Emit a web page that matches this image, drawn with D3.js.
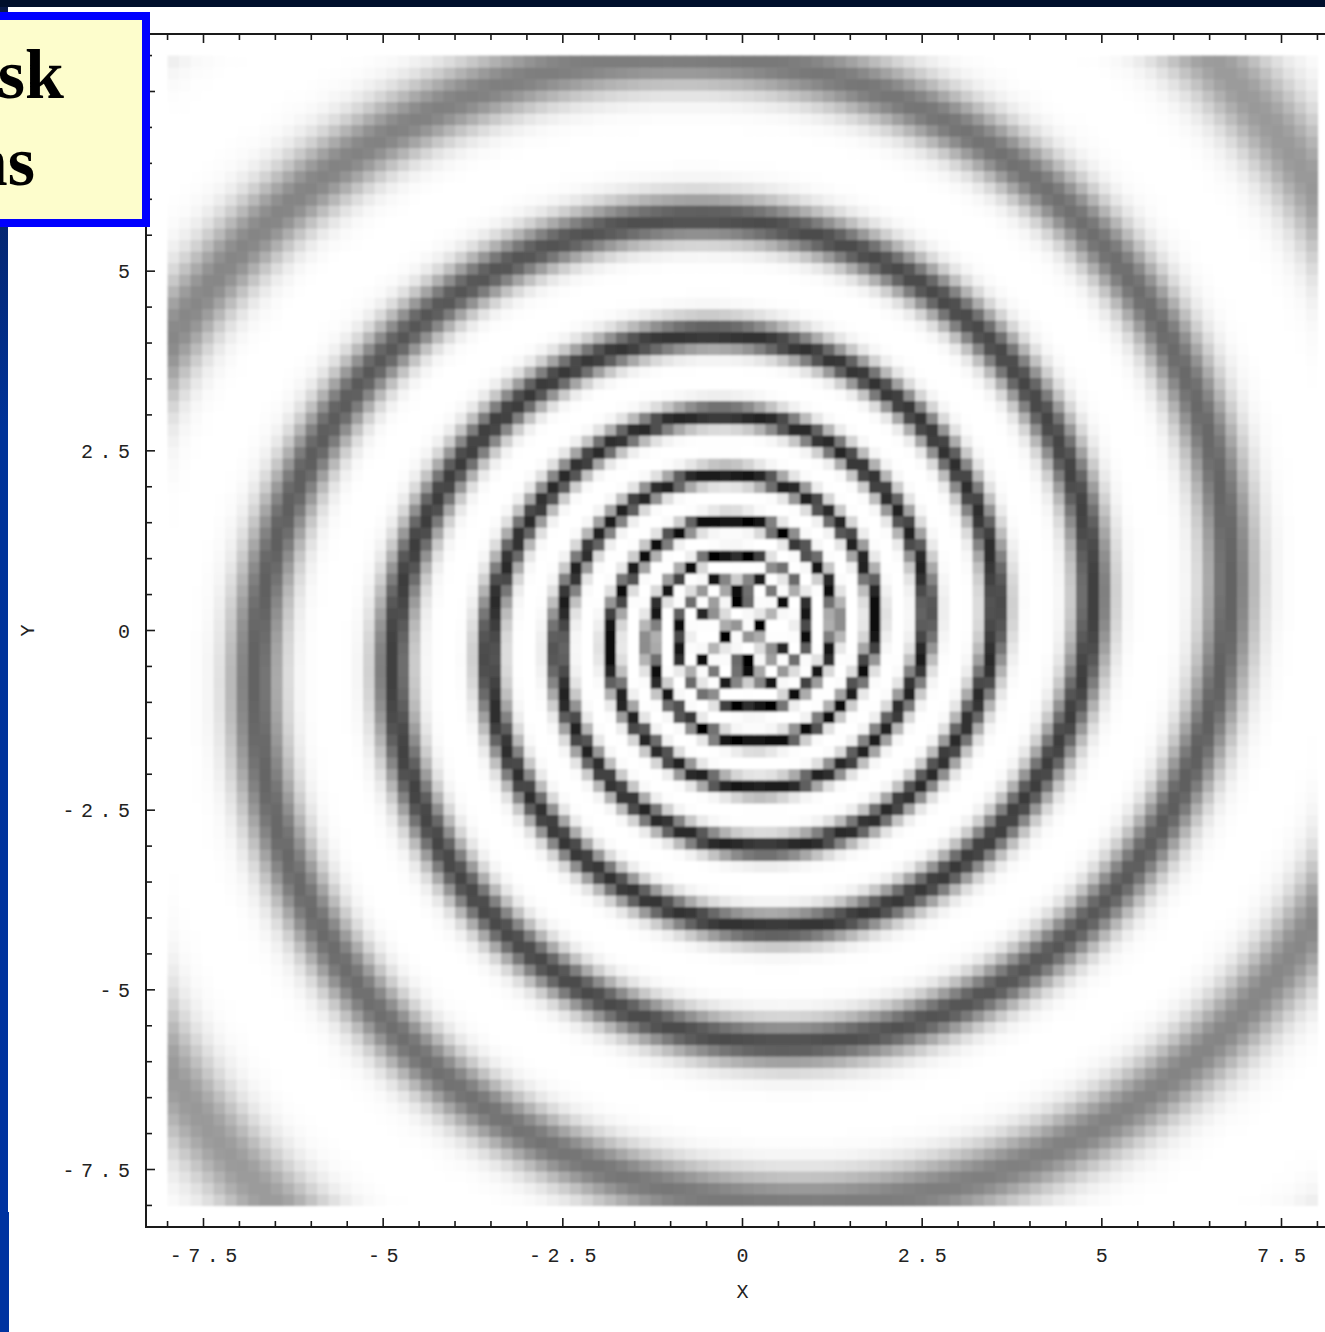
<!DOCTYPE html>
<html>
<head>
<meta charset="utf-8">
<script src="https://cdn.jsdelivr.net/npm/d3@7"></script>
<style>
  html, body { margin: 0; padding: 0; background: #ffffff; overflow: hidden; }
  svg { display: block; }
</style>
</head>
<body>
<svg id="chart" width="1325" height="1332"></svg>
<script>
// Radii of the dark spiral crest where it crosses the +Y axis, outermost first
const crestRadiiNorth = [15.4, 11.1, 7.96, 5.71, 4.10, 3.00, 2.17, 1.54, 1.06, 0.77, 0.55, 0.40, 0.29, 0.21, 0.15, 0.11, 0.08, 0.06];
// Darkness of the crest (0 = white, 1 = black) at a given radius
const depthRadii  = [0.0, 1.5, 2.2, 3.0, 4.1, 5.7, 8.0, 10.2, 12.5];
const depthValues = [1.0, 1.0, 0.90, 0.86, 0.80, 0.70, 0.52, 0.40, 0.30];
// Width of a crest as a fraction of one ring period
const crestWidth = 0.12;
// Sampling grid of the density plot
const gridCells = 100;
const gridExtent = [-8, 8];
// Axis ticks
const xTickValues = [-7.5, -5, -2.5, 0, 2.5, 5, 7.5];
const yTickValues = [-7.5, -5, -2.5, 0, 2.5, 5, 7.5];
const frameExtent = [-8.3, 8.3];

const svg = d3.select("#chart");
const W = 1325, H = 1332;

// ---- slide background ----
const defs = svg.append("defs");
const grad = defs.append("linearGradient").attr("id", "sideBar")
  .attr("x1", 0).attr("y1", 0).attr("x2", 0).attr("y2", 1);
grad.append("stop").attr("offset", 0).attr("stop-color", "#0a1a48");
grad.append("stop").attr("offset", 0.35).attr("stop-color", "#003399");
grad.append("stop").attr("offset", 1).attr("stop-color", "#0033a0");

svg.append("rect").attr("width", W).attr("height", H).attr("fill", "#ffffff");
svg.append("rect").attr("x", 0).attr("y", 0).attr("width", W).attr("height", 7).attr("fill", "#000f2c");
svg.append("rect").attr("x", 0).attr("y", 7).attr("width", 8).attr("height", 1205).attr("fill", "url(#sideBar)");
svg.append("rect").attr("x", 0).attr("y", 1212).attr("width", 9).attr("height", 120).attr("fill", "#0033a0");

// ---- scales ----
const x = d3.scaleLinear().domain(frameExtent).range([146, 1339]);
const y = d3.scaleLinear().domain(frameExtent).range([1227, 34]);
const gray = d3.scaleLinear().domain([0, 1]).range(["#000000", "#ffffff"]);

// ---- density raster ----
const logCrest = crestRadiiNorth.map(Math.log);
function crestIndex(r) {
  const lr = Math.log(r);
  const n = logCrest.length;
  let i;
  if (lr >= logCrest[0]) i = 0;
  else if (lr <= logCrest[n - 1]) i = n - 2;
  else { i = 0; while (!(logCrest[i] >= lr && lr >= logCrest[i + 1])) i++; }
  return i + (logCrest[i] - lr) / (logCrest[i] - logCrest[i + 1]);
}
const depthAt = d3.scaleLinear().domain(depthRadii).range(depthValues).clamp(true);

const step = (gridExtent[1] - gridExtent[0]) / gridCells;
const cells = [];
for (let j = 0; j < gridCells; j++) {
  for (let i = 0; i < gridCells; i++) {
    const cx = gridExtent[0] + (i + 0.5) * step;
    const cy = gridExtent[0] + (j + 0.5) * step;
    const r = Math.hypot(cx, cy);
    const theta = Math.atan2(cy, cx);
    // two-armed spiral: half a ring period of shift per quarter turn
    const u = crestIndex(r) + (theta - Math.PI / 2) / Math.PI;
    const d = Math.abs(u - Math.round(u));
    const v = 1 - depthAt(r) * Math.exp(-(d * d) / (2 * crestWidth * crestWidth));
    cells.push({ x0: gridExtent[0] + i * step, y0: gridExtent[0] + (j + 1) * step, v });
  }
}

defs.append("filter").attr("id", "soft").attr("x", "-1%").attr("y", "-1%").attr("width", "102%").attr("height", "102%")
  .append("feGaussianBlur").attr("stdDeviation", 1.2);

const cw = x(gridExtent[0] + step) - x(gridExtent[0]);
const ch = y(gridExtent[0]) - y(gridExtent[0] + step);
svg.append("g").attr("filter", "url(#soft)")
  .selectAll("rect").data(cells).join("rect")
  .attr("x", d => x(d.x0))
  .attr("y", d => y(d.y0))
  .attr("width", cw + 0.6)
  .attr("height", ch + 0.6)
  .attr("fill", d => gray(d.v));

// ---- frame and ticks ----
const minor = d3.range(-8, 8.001, 0.5);
const frame = svg.append("g").attr("stroke", "#1a1a1a");
frame.append("line").attr("x1", x(frameExtent[0])).attr("x2", W + 20).attr("y1", y(frameExtent[0])).attr("y2", y(frameExtent[0])).attr("stroke-width", 2);
frame.append("line").attr("x1", x(frameExtent[0])).attr("x2", W + 20).attr("y1", y(frameExtent[1])).attr("y2", y(frameExtent[1])).attr("stroke-width", 2);
frame.append("line").attr("x1", x(frameExtent[0])).attr("x2", x(frameExtent[0])).attr("y1", y(frameExtent[0]) + 1).attr("y2", y(frameExtent[1]) - 1).attr("stroke-width", 2);

const isMajor = v => Math.abs(v / 2.5 - Math.round(v / 2.5)) < 1e-6;
const tickLen = v => isMajor(v) ? 9 : 6;
// bottom and top frame ticks point inward
frame.selectAll(".tb").data(minor).join("line")
  .attr("x1", d => x(d)).attr("x2", d => x(d))
  .attr("y1", y(frameExtent[0])).attr("y2", d => y(frameExtent[0]) - tickLen(d))
  .attr("stroke-width", 1.6);
frame.selectAll(".tt").data(minor).join("line")
  .attr("x1", d => x(d)).attr("x2", d => x(d))
  .attr("y1", y(frameExtent[1])).attr("y2", d => y(frameExtent[1]) + tickLen(d))
  .attr("stroke-width", 1.6);
frame.selectAll(".tl").data(minor).join("line")
  .attr("y1", d => y(d)).attr("y2", d => y(d))
  .attr("x1", x(frameExtent[0])).attr("x2", d => x(frameExtent[0]) + tickLen(d))
  .attr("stroke-width", 1.6);

// ---- tick labels ----
const fmt = v => String(v);
const labelFont = "'Liberation Mono', 'DejaVu Sans Mono', monospace";
const spacing = 6.5;
svg.append("g").selectAll("text").data(xTickValues).join("text")
  .attr("x", d => x(d) + spacing / 2)
  .attr("y", 1262)
  .attr("text-anchor", "middle")
  .attr("font-family", labelFont).attr("font-size", 20)
  .attr("letter-spacing", spacing)
  .attr("fill", "#222")
  .text(fmt);
svg.append("g").selectAll("text").data(yTickValues).join("text")
  .attr("x", 130 + spacing)
  .attr("y", d => y(d) + 7)
  .attr("text-anchor", "end")
  .attr("font-family", labelFont).attr("font-size", 20)
  .attr("letter-spacing", spacing)
  .attr("fill", "#222")
  .text(fmt);

svg.append("text").attr("x", x(0)).attr("y", 1298).attr("text-anchor", "middle")
  .attr("font-family", labelFont).attr("font-size", 20).attr("fill", "#222").text("X");
svg.append("text").attr("transform", `translate(34, ${y(0)}) rotate(-90)`).attr("text-anchor", "middle")
  .attr("font-family", labelFont).attr("font-size", 20).attr("fill", "#222").text("Y");

// ---- title box ----
svg.append("rect").attr("x", -20).attr("y", 16).attr("width", 166).attr("height", 207)
  .attr("fill", "#fdfdcc").attr("stroke", "#0000ff").attr("stroke-width", 8);
const titleFont = "'Liberation Serif', 'Times New Roman', serif";
svg.append("text").attr("x", 64).attr("y", 98).attr("text-anchor", "end")
  .attr("font-family", titleFont).attr("font-weight", "bold").attr("font-size", 70).attr("fill", "#000").text("sk");
svg.append("text").attr("x", 35).attr("y", 185).attr("text-anchor", "end")
  .attr("font-family", titleFont).attr("font-weight", "bold").attr("font-size", 70).attr("fill", "#000").text("ns");
</script>
</body>
</html>
